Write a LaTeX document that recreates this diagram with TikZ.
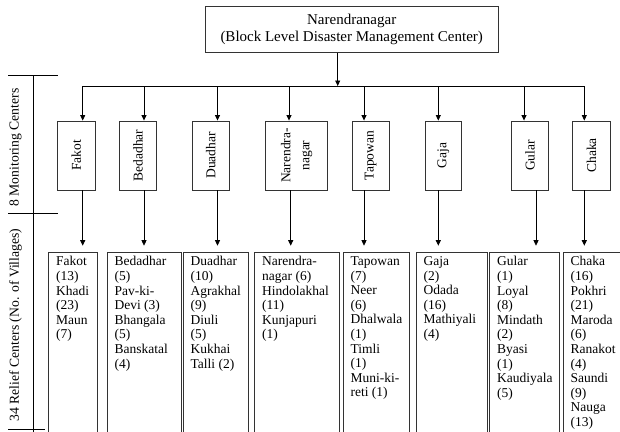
\documentclass[tikz,border=0pt]{standalone}
\usepackage{fontspec}
\setmainfont{Liberation Serif}
\usetikzlibrary{arrows.meta}

\tikzset{
  box/.style={draw=black!80,line width=0.9pt,inner sep=0pt},
  monbox/.style={box,minimum height=69pt,font=\fontsize{13.5}{15.5}\selectfont},
  relbox/.style={box,anchor=north west,minimum height=190pt},
  reltext/.style={anchor=north west,align=left,inner sep=0pt,font=\fontsize{13.5}{14.6}\selectfont},
  sidelabel/.style={rotate=90,inner sep=0pt,font=\fontsize{13.7}{15}\selectfont},
  arr/.style={-{Triangle[length=5.5pt,width=5pt]},line width=0.8pt}
}

\begin{document}
\begin{tikzpicture}[x=1pt,y=-1pt,line width=0.8pt]
  \useasboundingbox (0,0) rectangle (620,431);
  %\draw[very thin,lightgray] (0,0) grid[step=20] (620,431);

  % block level center and bus
  \node[box,minimum width=293pt,minimum height=46pt,align=center,font=\fontsize{15}{17}\selectfont]
    (top) at (351.7,29.2) {Narendranagar\\(Block Level Disaster Management Center)};
  \coordinate (hub) at (337.7,86);
  \coordinate (busL) at (82.7,86);
  \coordinate (busR) at (584.3,86);
  \draw[arr] (top.south -| hub) -- (hub);
  \draw (busL) -- (busR);

  % monitoring centers
  \node[monbox,minimum width=37.3pt] (m1) at (76.3,155.5) {\rotatebox{90}{Fakot}};
  \node[monbox,minimum width=37.7pt] (m2) at (137.9,155.5) {\rotatebox{90}{Bedadhar}};
  \node[monbox,minimum width=37pt] (m3) at (210.8,155.5) {\rotatebox{90}{Duadhar}};
  \node[monbox,minimum width=62pt] (m4) at (296.7,155.5)
    {\rotatebox{90}{\begin{tabular}{@{}c@{}}Narendra-\\[3.5pt]nagar\end{tabular}}};
  \node[monbox,minimum width=36.5pt] (m5) at (370.7,155.5) {\rotatebox{90}{Tapowan}};
  \node[monbox,minimum width=36.7pt] (m6) at (443.3,155.5) {\rotatebox{90}{Gaja}};
  \node[monbox,minimum width=36.6pt] (m7) at (530,155.5) {\rotatebox{90}{Gular}};
  \node[monbox,minimum width=38.4pt] (m8) at (591.5,155.5) {\rotatebox{90}{Chaka}};

  % relief centers
  \node[relbox,minimum width=48.4pt] (r1) at (48.3,251.7) {};
  \node[relbox,minimum width=74.3pt] (r2) at (106.7,251.7) {};
  \node[relbox,minimum width=65pt] (r3) at (182.7,251.7) {};
  \node[relbox,minimum width=85pt] (r4) at (254.3,251.7) {};
  \node[relbox,minimum width=66.6pt] (r5) at (342.7,251.7) {};
  \node[relbox,minimum width=71pt] (r6) at (415.7,251.7) {};
  \node[relbox,minimum width=70pt] (r7) at (489.3,251.7) {};
  \node[relbox,minimum width=70pt] (r8) at (562.7,251.7) {};

  \node[reltext] (t1) at ([xshift=7.5pt,yshift=-4.5pt]r1.north west)
    {Fakot\\(13)\\Khadi\\(23)\\Maun\\(7)};
  \node[reltext] (t2) at ([xshift=7.5pt,yshift=-4.5pt]r2.north west)
    {Bedadhar\\(5)\\Pav-ki-\\Devi (3)\\Bhangala\\(5)\\Banskatal\\(4)};
  \node[reltext] (t3) at ([xshift=7.5pt,yshift=-4.5pt]r3.north west)
    {Duadhar\\(10)\\Agrakhal\\(9)\\Diuli\\(5)\\Kukhai\\Talli (2)};
  \node[reltext] (t4) at ([xshift=7.5pt,yshift=-4.5pt]r4.north west)
    {Narendra-\\nagar (6)\\Hindolakhal\\(11)\\Kunjapuri\\(1)};
  \node[reltext] (t5) at ([xshift=7.5pt,yshift=-4.5pt]r5.north west)
    {Tapowan\\(7)\\Neer\\(6)\\Dhalwala\\(1)\\Timli\\(1)\\Muni-ki-\\reti (1)};
  \node[reltext] (t6) at ([xshift=7.5pt,yshift=-4.5pt]r6.north west)
    {Gaja\\(2)\\Odada\\(16)\\Mathiyali\\(4)};
  \node[reltext] (t7) at ([xshift=7.5pt,yshift=-4.5pt]r7.north west)
    {Gular\\(1)\\Loyal\\(8)\\Mindath\\(2)\\Byasi\\(1)\\Kaudiyala\\(5)};
  \node[reltext] (t8) at ([xshift=7.5pt,yshift=-4.5pt]r8.north west)
    {Chaka\\(16)\\Pokhri\\(21)\\Maroda\\(6)\\Ranakot\\(4)\\Saundi\\(9)\\Nauga\\(13)};

  % connectors: bus -> monitoring -> relief
  \foreach \i/\a/\b in {1/82.7/82.7,2/144/144,3/217.5/217.5,4/289/290.7,
                        5/364/364,6/438.3/438.3,7/524/536,8/584.3/584.3}{
    \draw[arr] (busL -| \a,0) -- (m\i.north -| \a,0);
    \draw[arr,shorten >=6pt] (m\i.south -| \b,0) -- (r\i.north -| \b,0);
  }

  % side bracket and labels
  \draw (33.3,75) -- (33.3,440);
  \draw (8,75) -- (58.3,75);
  \draw (8,213) -- (58.3,213);
  \draw (8,429.5) -- (45,429.5);
  \node[sidelabel] (lmon) at (15.5,147.5) {8 Monitoring Centers};
  \node[sidelabel] (lrel) at (15.5,325) {34 Relief Centers (No. of Villages)};
\end{tikzpicture}
\end{document}
